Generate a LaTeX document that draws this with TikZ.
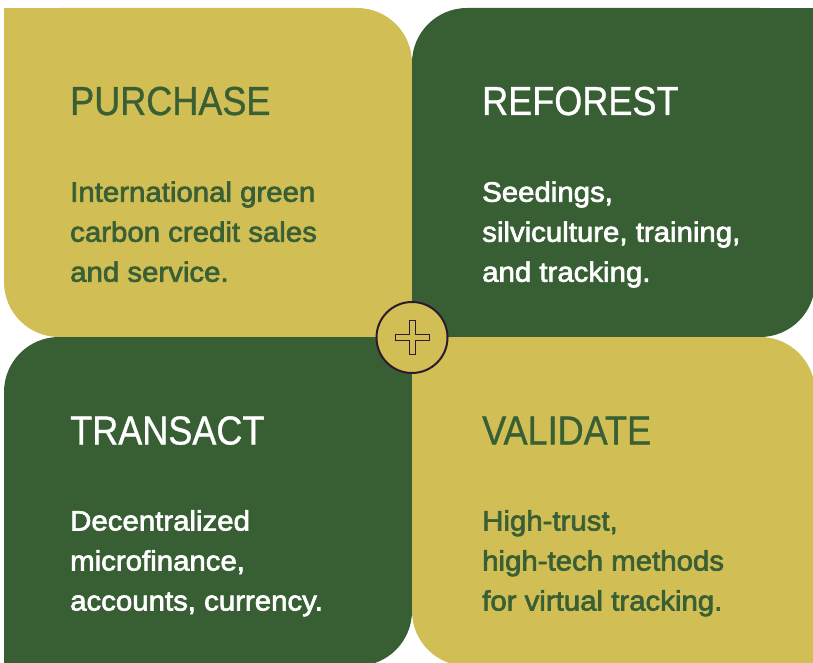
\documentclass[tikz,border=0pt]{standalone}
\usepackage{fontspec}
\usetikzlibrary{calc}
\setmainfont{Liberation Sans}
\newfontfamily\headfont[FakeStretch=0.89,FakeBold=0.8]{Liberation Sans}
\newfontfamily\bodyfont[FakeStretch=1.05,FakeBold=2.4]{Liberation Sans}
\definecolor{ylw}{HTML}{D1BE55}
\definecolor{grn}{HTML}{385E33}
\definecolor{gtext}{HTML}{3A5F34}
\definecolor{ink}{HTML}{2E1A2E}
\tikzset{
  panel/.style={rounded corners=55pt},
  headtxt/.style={anchor=base west, inner sep=0pt, font=\headfont\fontsize{40.5}{48}\selectfont},
  bodytxt/.style={anchor=base west, inner sep=0pt, font=\bodyfont\fontsize{28}{40}\selectfont},
}
\begin{document}
\begin{tikzpicture}[x=1pt,y=-1pt]
\useasboundingbox (0,0) rectangle (813,663);
% top-left yellow
\fill[ylw,panel] (4,8) rectangle (412,337);
\fill[ylw] (4,8) rectangle (70,70);
\fill[ylw] (340,270) rectangle (412,337);
% top-right green
\fill[grn,panel] (412,8) rectangle (815,337);
\fill[grn] (740,8) rectangle (815,80);
\fill[grn] (412,270) rectangle (480,337);
% bottom-left green
\fill[grn,panel] (4,337) rectangle (412,666);
\fill[grn] (340,337) rectangle (412,400);
\fill[grn] (4,600) rectangle (70,666);
% bottom-right yellow
\fill[ylw,panel] (412,337) rectangle (815,666);
\fill[ylw] (412,337) rectangle (480,400);
\fill[ylw] (740,600) rectangle (815,666);
% texts
\node[headtxt,text=gtext] (h1) at (70,115) {PURCHASE};
\node[bodytxt,text=gtext] (b1) at (70,201.7) {\parbox[t]{330pt}{International green\\carbon credit sales\\and service.}};
\node[headtxt,text=white] (h2) at (482,115) {REFOREST};
\node[bodytxt,text=white] (b2) at (482,201.7) {\parbox[t]{330pt}{Seedings,\\silviculture, training,\\and tracking.}};
\node[headtxt,text=white] (h3) at (70,444.5) {TRANSACT};
\node[bodytxt,text=white] (b3) at (70,530.5) {\parbox[t]{330pt}{Decentralized\\microfinance,\\accounts, currency.}};
\node[headtxt,text=gtext] (h4) at (482,444.5) {VALIDATE};
\node[bodytxt,text=gtext] (b4) at (482,530.5) {\parbox[t]{330pt}{High-trust,\\high-tech methods\\for virtual tracking.}};
% center plus
\node[circle, draw=ink, line width=2pt, fill=ylw, minimum size=71pt, inner sep=0pt] (plus) at (412,337.5) {};
\draw[ink, line width=1pt, fill=ylw, line join=miter]
  ($(plus.center)+(-3,-17)$) -- ++(6,0) -- ++(0,14) -- ++(14,0) -- ++(0,6) -- ++(-14,0)
  -- ++(0,14) -- ++(-6,0) -- ++(0,-14) -- ++(-14,0) -- ++(0,-6) -- ++(14,0) -- cycle;
\end{tikzpicture}
\end{document}
